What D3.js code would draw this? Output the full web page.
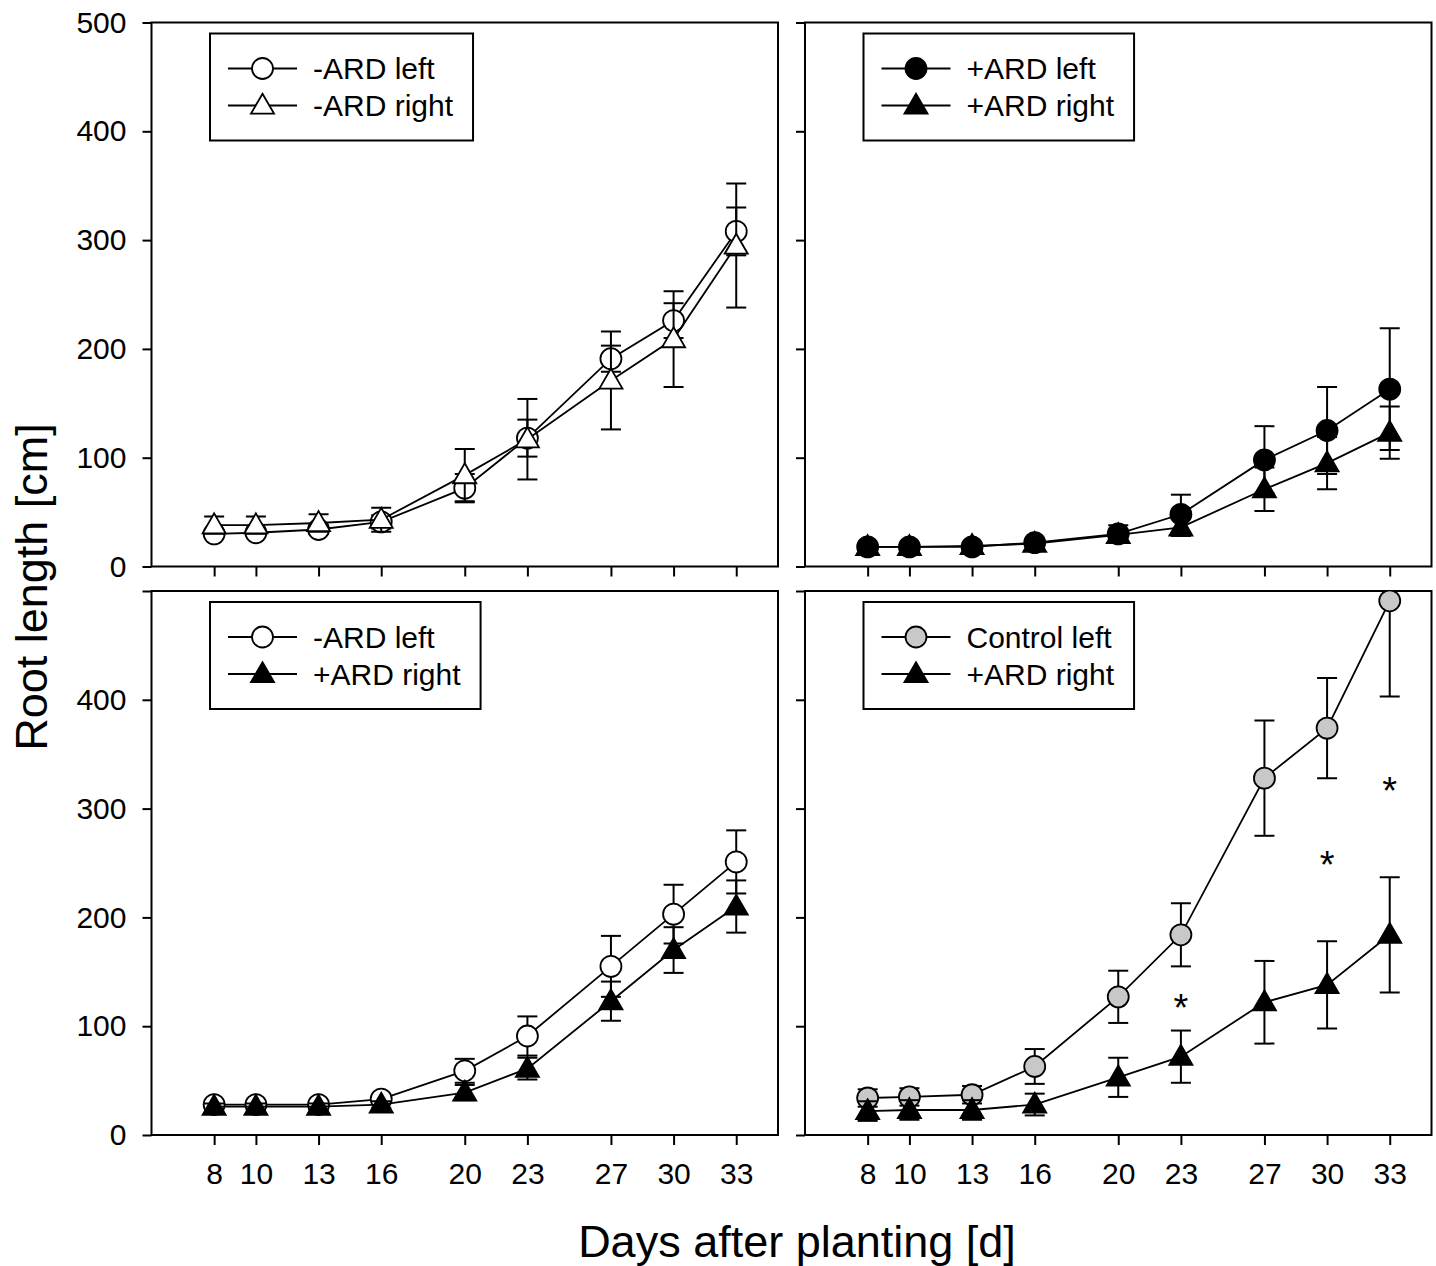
<!DOCTYPE html>
<html>
<head>
<meta charset="utf-8">
<script src="https://cdn.jsdelivr.net/npm/d3@7"></script>
<style>
  body { margin: 0; background: #fff; }
  text { font-family: "Liberation Sans", Arial, sans-serif; fill: #000; }
</style>
</head>
<body>
<div id="chart"></div>
<script>
var svgWidth = 1436;
var svgHeight = 1266;

// days on the x axis
var days = [8, 10, 13, 16, 20, 23, 27, 30, 33];
var yTicks = [0, 100, 200, 300, 400, 500];

// top left panel
var minusLeftA = [30, 31, 34, 41, 72, 118, 191, 226, 308];
var minusLeftAErr = [3, 3, 4, 6, 13, 17, 12, 16, 22];
var minusRightA = [38, 38, 40, 43, 84, 117, 171, 209, 295];
var minusRightAErr = [8, 8, 8, 11, 24, 37, 45, 44, 57];

// top right panel
var plusLeftB = [18, 18, 18, 22, 30, 48, 98, 125, 163];
var plusLeftBErr = [3, 3, 3, 3, 8, 18, 31, 40, 56];
var plusRightB = [18, 18, 19, 21, 29, 36, 71, 95, 123];
var plusRightBErr = [3, 3, 3, 3, 5, 8, 20, 24, 24];

// bottom left panel
var minusLeftC = [28, 28, 28, 33, 59, 91, 155, 203, 251];
var minusLeftCErr = [3, 3, 3, 3, 11, 18, 28, 27, 29];
var plusRightC = [26, 26, 26, 28, 39, 61, 123, 170, 210];
var plusRightCErr = [3, 3, 3, 3, 7, 10, 18, 21, 24];

// bottom right panel
var controlLeftD = [34, 35, 37, 63, 127, 184, 328, 374, 491];
var controlLeftDErr = [8, 8, 8, 16, 24, 29, 53, 46, 88];
var plusRightD = [22, 23, 23, 28, 53, 72, 122, 138, 184];
var plusRightDErr = [9, 9, 9, 10, 18, 24, 38, 40, 53];

// significance marks (bottom right)
var starDays = [23, 30, 33];
var starVals = [125, 256, 324];

var panelW = 626.5;
var panelH = 544;

var panels = [
  { x0: 151.5, y0: 22.5, xLabels: false, yTop: true,  yLabels: true,
    series: [
      { name: "-ARD left",  vals: minusLeftA,  err: minusLeftAErr,  shape: "circle",   fill: "#fff" },
      { name: "-ARD right", vals: minusRightA, err: minusRightAErr, shape: "triangle", fill: "#fff" }
    ] },
  { x0: 805, y0: 22.5, xLabels: false, yTop: false, yLabels: false,
    series: [
      { name: "+ARD left",  vals: plusLeftB,  err: plusLeftBErr,  shape: "circle",   fill: "#000" },
      { name: "+ARD right", vals: plusRightB, err: plusRightBErr, shape: "triangle", fill: "#000" }
    ] },
  { x0: 151.5, y0: 591, xLabels: true, yTop: false, yLabels: true,
    series: [
      { name: "-ARD left",  vals: minusLeftC, err: minusLeftCErr, shape: "circle",   fill: "#fff" },
      { name: "+ARD right", vals: plusRightC, err: plusRightCErr, shape: "triangle", fill: "#000" }
    ] },
  { x0: 805, y0: 591, xLabels: true, yTop: false, yLabels: false, stars: true,
    series: [
      { name: "Control left", vals: controlLeftD, err: controlLeftDErr, shape: "circle",   fill: "#c8c8c8" },
      { name: "+ARD right",   vals: plusRightD,   err: plusRightDErr,   shape: "triangle", fill: "#000" }
    ] }
];

var svg = d3.select("#chart")
  .append("svg")
  .attr("width", svgWidth)
  .attr("height", svgHeight);

var circleSym = d3.symbol().type(d3.symbolCircle).size(Math.PI * 10.5 * 10.5);
var triSym = d3.symbol().type(d3.symbolTriangle).size(230);

function marker(g, shape, fill, x, y) {
  g.append("path")
    .attr("d", shape === "circle" ? circleSym() : triSym())
    .attr("transform", `translate(${x},${y + (shape === "circle" ? 0 : 1.5)})`)
    .attr("fill", fill)
    .attr("stroke", "#000")
    .attr("stroke-width", 1.8);
}

panels.forEach(function(p, pi) {
  var x = d3.scaleLinear().domain([5, 35]).range([p.x0, p.x0 + panelW]);
  var y = d3.scaleLinear().domain([0, 500]).range([p.y0 + panelH, p.y0]);

  var g = svg.append("g");

  // axes
  var leftAxis = d3.axisLeft(y).tickValues(yTicks).tickSize(9).tickPadding(16)
    .tickFormat(function(d) {
      if (!p.yLabels) return "";
      if (d === 500 && !p.yTop) return "";
      return d;
    });
  var ga = g.append("g").attr("transform", `translate(${p.x0},0)`).call(leftAxis);

  var bottomAxis = d3.axisBottom(x).tickValues(days).tickSize(10).tickPadding(18)
    .tickFormat(function(d) { return p.xLabels ? d : ""; });
  var gb = g.append("g").attr("transform", `translate(0,${p.y0 + panelH})`).call(bottomAxis);

  [ga, gb].forEach(function(a) {
    a.select(".domain").remove();
    a.selectAll("line").attr("stroke", "#000").attr("stroke-width", 2);
    a.selectAll("text").attr("font-size", 30).attr("fill", "#000")
      .style("font-family", "'Liberation Sans', Arial, sans-serif");
  });

  // frame
  g.append("rect")
    .attr("x", p.x0).attr("y", p.y0)
    .attr("width", panelW).attr("height", panelH)
    .attr("fill", "none").attr("stroke", "#000").attr("stroke-width", 2);

  var clipId = "clip" + pi;
  svg.append("clipPath").attr("id", clipId)
    .append("rect").attr("x", p.x0).attr("y", p.y0).attr("width", panelW).attr("height", panelH);

  var plot = g.append("g").attr("clip-path", `url(#${clipId})`);

  var line = d3.line().x((d, i) => x(days[i])).y(d => y(d));

  p.series.forEach(function(s) {
    var sg = plot.append("g");
    sg.append("path")
      .attr("d", line(s.vals))
      .attr("fill", "none").attr("stroke", "#000").attr("stroke-width", 1.8);

    s.vals.forEach(function(v, i) {
      var cx = x(days[i]);
      var hi = y(v + s.err[i]);
      var lo = y(v - s.err[i]);
      sg.append("line").attr("x1", cx).attr("x2", cx).attr("y1", hi).attr("y2", lo)
        .attr("stroke", "#000").attr("stroke-width", 2);
      [hi, lo].forEach(function(cy) {
        sg.append("line").attr("x1", cx - 10).attr("x2", cx + 10).attr("y1", cy).attr("y2", cy)
          .attr("stroke", "#000").attr("stroke-width", 2);
      });
    });

    s.vals.forEach(function(v, i) {
      marker(sg, s.shape, s.fill, x(days[i]), y(v));
    });
  });

  if (p.stars) {
    starDays.forEach(function(d, i) {
      g.append("text")
        .attr("x", x(d)).attr("y", y(starVals[i]) + 22)
        .attr("text-anchor", "middle")
        .attr("font-size", 38)
        .text("*");
    });
  }

  // legend
  var lg = g.append("g");
  var lx = p.x0 + 58.5;
  var ly = p.y0 + 11;
  var box = lg.append("rect")
    .attr("x", lx).attr("y", ly).attr("height", 107)
    .attr("fill", "#fff").attr("stroke", "#000").attr("stroke-width", 2);
  var maxW = 0;
  p.series.forEach(function(s, i) {
    var ry = ly + 35 + i * 37;
    lg.append("line").attr("x1", lx + 18).attr("x2", lx + 87).attr("y1", ry).attr("y2", ry)
      .attr("stroke", "#000").attr("stroke-width", 1.8);
    marker(lg, s.shape, s.fill, lx + 52.5, ry);
    var t = lg.append("text")
      .attr("x", lx + 103).attr("y", ry + 10.5)
      .attr("font-size", 30)
      .text(s.name);
    maxW = Math.max(maxW, t.node().getComputedTextLength());
  });
  box.attr("width", 103 + maxW + 20);
});

// axis titles
svg.append("text")
  .attr("transform", "translate(47, 587) rotate(-90)")
  .attr("text-anchor", "middle")
  .attr("font-size", 45)
  .text("Root length [cm]");

svg.append("text")
  .attr("x", 797).attr("y", 1257)
  .attr("text-anchor", "middle")
  .attr("font-size", 45)
  .text("Days after planting [d]");
</script>
</body>
</html>
